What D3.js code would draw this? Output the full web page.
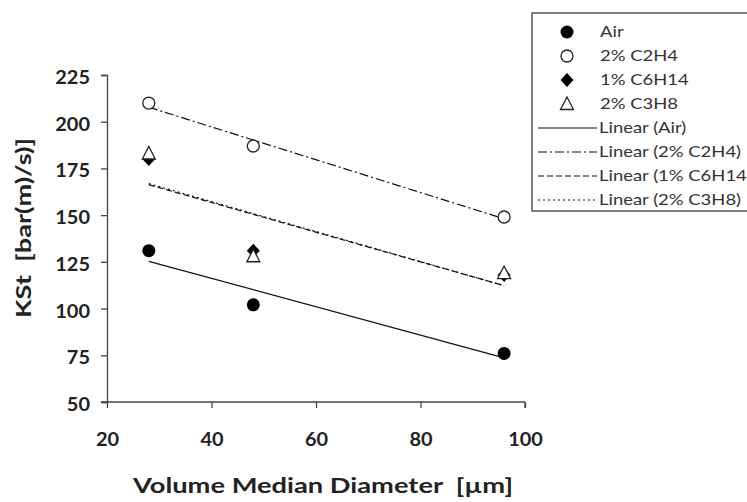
<!DOCTYPE html>
<html>
<head>
<meta charset="utf-8">
<script src="https://cdn.jsdelivr.net/npm/d3@7"></script>
<style>
  body { margin: 0; background: #fff; }
  svg { display: block; font-family: Lato, "Open Sans", sans-serif; }
  text { white-space: pre; }
</style>
</head>
<body>
<div id="chart"></div>
<script>
// diameters (um)
var xVals = [28, 48, 96];
// KSt values per mixture
var air = [131, 102, 76];
var c2h4 = [210, 187, 149];
var c6h14 = [180, 131, 118];
var c3h8 = [183, 128, 119];
var seriesNames = ["Air", "2% C2H4", "1% C6H14", "2% C3H8"];
var xTicks = [20, 40, 60, 80, 100];
var yTicks = [50, 75, 100, 125, 150, 175, 200, 225];

var W = 747, H = 502;
var svg = d3.select("#chart").append("svg").attr("width", W).attr("height", H);

var x = d3.scaleLinear().domain([20, 100]).range([107, 525]);
var y = d3.scaleLinear().domain([50, 225]).range([402, 75]);

// the original picture is a bit wider than its fonts, stretch text to match
function stretch(sel, k) {
  sel.each(function() {
    var L = this.getComputedTextLength();
    d3.select(this).attr("textLength", L * k).attr("lengthAdjust", "spacingAndGlyphs");
  });
}

function fit(ys) {
  var mx = d3.mean(xVals), my = d3.mean(ys);
  var num = d3.sum(xVals, function(v, i) { return (v - mx) * (ys[i] - my); });
  var den = d3.sum(xVals, function(v) { return (v - mx) * (v - mx); });
  var b = num / den, a = my - b * mx;
  var x0 = d3.min(xVals), x1 = d3.max(xVals);
  return [[x0, a + b * x0], [x1, a + b * x1]];
}

var series = [
  { name: seriesNames[0], vals: air, sym: "fcircle", dash: null },
  { name: seriesNames[1], vals: c2h4, sym: "ocircle", dash: "9,3,2,3" },
  { name: seriesNames[2], vals: c6h14, sym: "diamond", dash: "6,3" },
  { name: seriesNames[3], vals: c3h8, sym: "triangle", dash: "2,3" }
];

// axes
var yAxis = svg.append("g").attr("transform", "translate(107,0)")
  .call(d3.axisLeft(y).tickValues(yTicks).tickSize(6).tickPadding(11));
var xAxis = svg.append("g").attr("transform", "translate(0,402)")
  .call(d3.axisBottom(x).tickValues(xTicks).tickSize(6).tickPadding(25));
[yAxis, xAxis].forEach(function(g) {
  g.select(".domain").attr("stroke", "#444").attr("stroke-width", 1.3);
  g.selectAll(".tick line").attr("stroke", "#444").attr("stroke-width", 1.3);
  g.selectAll(".tick text").attr("fill", "#222").style("font-size", "19px").style("font-weight", "bold")
    .style("font-family", "Lato, 'Open Sans', sans-serif");
});
yAxis.selectAll(".tick text").attr("dy", "0.45em");
stretch(yAxis.selectAll(".tick text"), 1.05);
stretch(xAxis.selectAll(".tick text"), 1.05);
// axes cross at 50, x line sticks out past the y axis a little
xAxis.select(".domain").attr("d", "M" + (x(20) - 6) + ",0H" + x(100) + "M" + x(100) + ",0V6");

// trend lines
var line = d3.line().x(function(d) { return x(d[0]); }).y(function(d) { return y(d[1]); });
series.forEach(function(s) {
  svg.append("path").attr("d", line(fit(s.vals)))
    .attr("fill", "none").attr("stroke", "#111").attr("stroke-width", 1.2)
    .attr("stroke-dasharray", s.dash);
});

function drawSym(g, sym, cx, cy) {
  if (sym === "fcircle") {
    g.append("circle").attr("cx", cx).attr("cy", cy).attr("r", 6.5).attr("fill", "#000");
  } else if (sym === "ocircle") {
    g.append("circle").attr("cx", cx).attr("cy", cy).attr("r", 6).attr("fill", "#fff")
      .attr("stroke", "#222").attr("stroke-width", 1.3);
  } else if (sym === "diamond") {
    g.append("path").attr("transform", "translate(" + cx + "," + cy + ")")
      .attr("d", "M0,-7L6.5,0L0,7L-6.5,0Z").attr("fill", "#000");
  } else {
    g.append("path").attr("transform", "translate(" + cx + "," + cy + ")")
      .attr("d", "M0,-7L6.5,5.5L-6.5,5.5Z").attr("fill", "#fff")
      .attr("stroke", "#222").attr("stroke-width", 1.3);
  }
}

// points
series.forEach(function(s) {
  var g = svg.append("g");
  s.vals.forEach(function(v, i) { drawSym(g, s.sym, x(xVals[i]), y(v)); });
});

// axis titles
svg.append("text").attr("transform", "translate(31,228) rotate(-90)")
  .attr("text-anchor", "middle").style("font-size", "20px").style("font-weight", "bold")
  .attr("fill", "#222").attr("textLength", 180).attr("lengthAdjust", "spacingAndGlyphs")
  .text("KSt  [bar(m)/s)]");
svg.append("text").attr("x", 323).attr("y", 493)
  .attr("text-anchor", "middle").style("font-size", "21px").style("font-weight", "bold")
  .attr("fill", "#222").attr("textLength", 380).attr("lengthAdjust", "spacingAndGlyphs")
  .text("Volume Median Diameter  [\u00b5m]");

// legend
var leg = svg.append("g");
leg.append("rect").attr("x", 532).attr("y", 13).attr("width", 230).attr("height", 198)
  .attr("fill", "#fff").attr("stroke", "#555").attr("stroke-width", 1.5);
var rowY = d3.scaleLinear().domain([0, 7]).range([32, 200]);
series.forEach(function(s, i) {
  drawSym(leg, s.sym, 567, rowY(i));
  leg.append("text").attr("class", "lt").attr("x", 600).attr("y", rowY(i)).attr("dy", "0.35em")
    .style("font-size", "15px").attr("fill", "#333").text(s.name);
});
series.forEach(function(s, i) {
  var yy = rowY(i + 4);
  leg.append("line").attr("x1", 538).attr("x2", 597).attr("y1", yy).attr("y2", yy)
    .attr("stroke", "#111").attr("stroke-width", 1.2).attr("stroke-dasharray", s.dash);
  leg.append("text").attr("class", "lt").attr("x", 599).attr("y", yy).attr("dy", "0.35em")
    .style("font-size", "15px").attr("fill", "#333").text("Linear (" + s.name + ")");
});
stretch(leg.selectAll(".lt"), 1.23);
</script>
</body>
</html>
